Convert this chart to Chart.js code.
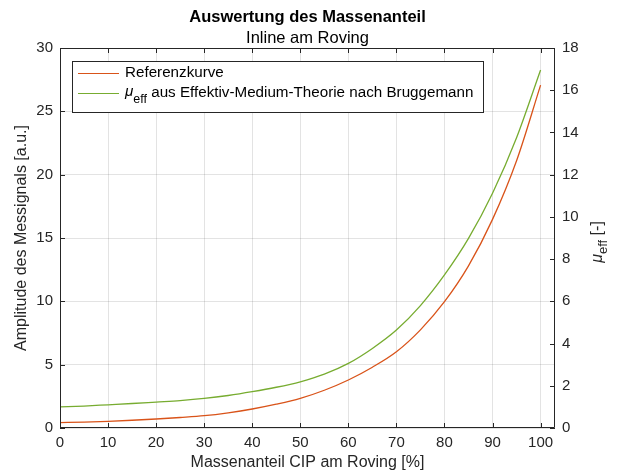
<!DOCTYPE html>
<html lang="de">
  <head>
    <title>Auswertung des Massenanteil</title>
    <script src="https://cdn.jsdelivr.net/npm/chart.js@4.4.1/dist/chart.umd.min.js"></script>
    <style>
      body { margin: 0; background: #fff; }
      #wrap { width: 617px; height: 474px; }
    </style>
  </head>
  <body>
    <div id="wrap">
      <canvas id="massChart" width="617" height="474"></canvas>
    </div>
    <script>
      // values
      const massenanteil = [0, 5, 10, 15, 20, 25, 30, 35, 40, 45, 50, 55, 60, 65, 70, 75, 80, 85, 90, 95, 100];
      const referenzkurve = [0.42, 0.47, 0.53, 0.61, 0.71, 0.83, 0.97, 1.2, 1.5, 1.88, 2.34, 2.98, 3.79, 4.8, 6.02, 7.75, 9.97, 12.8, 16.47, 21.1, 27.07];
      const muEff = [1.0, 1.04, 1.1, 1.16, 1.23, 1.3, 1.4, 1.54, 1.72, 1.93, 2.19, 2.55, 3.06, 3.77, 4.64, 5.8, 7.25, 8.98, 11.12, 13.75, 16.96];

      const xTicks = [0, 10, 20, 30, 40, 50, 60, 70, 80, 90, 100];
      const leftTicks = [0, 5, 10, 15, 20, 25, 30];
      const rightTicks = [0, 2, 4, 6, 8, 10, 12, 14, 16, 18];

      const legendLabels = ["Referenzkurve", "aus Effektiv-Medium-Theorie nach Bruggemann"];

      const ORANGE = "#D95319";
      const GREEN = "#77AC30";
      const INK = "#262626";
      const FONT = "'Liberation Sans', Arial, Helvetica, sans-serif";

      const useTicks = (values) => (scale) => {
        scale.ticks = values.map(v => ({ value: v }));
      };

      // box, inward ticks, titles and legend in MATLAB style
      const matlabDecor = {
        id: "matlabDecor",
        afterDraw(chart) {
          const ctx = chart.ctx;
          const a = chart.chartArea;
          const sx = chart.scales.x, sy = chart.scales.y, sy1 = chart.scales.y1;
          const tl = 5;
          ctx.save();
          ctx.strokeStyle = INK;
          ctx.lineWidth = 1;
          ctx.beginPath();
          ctx.rect(a.left + 0.5, a.top + 0.5, a.right - a.left - 1, a.bottom - a.top - 1);
          xTicks.forEach(v => {
            const px = Math.round(sx.getPixelForValue(v)) + 0.5;
            ctx.moveTo(px, a.bottom); ctx.lineTo(px, a.bottom - tl);
            ctx.moveTo(px, a.top); ctx.lineTo(px, a.top + tl);
          });
          leftTicks.forEach(v => {
            const py = Math.round(sy.getPixelForValue(v)) + 0.5;
            ctx.moveTo(a.left, py); ctx.lineTo(a.left + tl, py);
          });
          rightTicks.forEach(v => {
            const py = Math.round(sy1.getPixelForValue(v)) + 0.5;
            ctx.moveTo(a.right, py); ctx.lineTo(a.right - tl, py);
          });
          ctx.stroke();

          const cx = (a.left + a.right) / 2;
          ctx.fillStyle = "#000";
          ctx.textAlign = "center";
          ctx.textBaseline = "middle";
          ctx.font = "bold 16.5px " + FONT;
          ctx.fillText("Auswertung des Massenanteil", cx, 17);
          ctx.font = "16.5px " + FONT;
          ctx.fillText("Inline am Roving", cx, 38);

          ctx.fillStyle = INK;
          ctx.font = "16px " + FONT;
          ctx.fillText("Massenanteil CIP am Roving [%]", cx, 463);

          ctx.save();
          ctx.translate(22, (a.top + a.bottom) / 2);
          ctx.rotate(-Math.PI / 2);
          ctx.fillText("Amplitude des Messignals [a.u.]", 0, 0);
          ctx.restore();

          // right axis title with subscript
          ctx.save();
          ctx.translate(597, (a.top + a.bottom) / 2 + 4);
          ctx.rotate(-Math.PI / 2);
          ctx.textAlign = "left";
          ctx.textBaseline = "alphabetic";
          ctx.font = "italic 16px " + FONT;
          const wMu = ctx.measureText("\u03bc").width;
          ctx.font = "13px " + FONT;
          const wEff = ctx.measureText("eff").width;
          ctx.font = "16px " + FONT;
          const wRest = ctx.measureText(" [-]").width;
          let x0 = -(wMu + wEff + wRest) / 2;
          ctx.font = "italic 16px " + FONT;
          ctx.fillText("\u03bc", x0, 5);
          ctx.font = "13px " + FONT;
          ctx.fillText("eff", x0 + wMu, 10);
          ctx.font = "16px " + FONT;
          ctx.fillText(" [-]", x0 + wMu + wEff, 5);
          ctx.restore();

          // legend
          const lx = 72.5, ly = 61.5, lw = 411, lh = 51;
          ctx.fillStyle = "#fff";
          ctx.fillRect(lx, ly, lw, lh);
          ctx.strokeStyle = INK;
          ctx.strokeRect(lx, ly, lw, lh);
          const rows = [73, 93];
          [ORANGE, GREEN].forEach((c, i) => {
            ctx.strokeStyle = c;
            ctx.lineWidth = 1.2;
            ctx.beginPath();
            ctx.moveTo(78, rows[i] + 0.5);
            ctx.lineTo(119, rows[i] + 0.5);
            ctx.stroke();
          });
          ctx.fillStyle = "#000";
          ctx.textAlign = "left";
          ctx.textBaseline = "middle";
          ctx.font = "15.2px " + FONT;
          ctx.fillText(legendLabels[0], 125, rows[0]);
          ctx.font = "italic 15.2px " + FONT;
          ctx.fillText("\u03bc", 125, rows[1] - 1);
          const mw = ctx.measureText("\u03bc").width;
          ctx.font = "12.5px " + FONT;
          ctx.fillText("eff", 125 + mw, rows[1] + 7);
          const ew = ctx.measureText("eff").width;
          ctx.font = "15.2px " + FONT;
          ctx.fillText(" " + legendLabels[1], 125 + mw + ew, rows[1]);
          ctx.restore();
        }
      };

      const ctx = document.getElementById("massChart").getContext("2d");
      const massChart = new Chart(ctx, {
        type: "line",
        data: {
          datasets: [
            {
              label: legendLabels[0],
              data: massenanteil.map((x, i) => ({ x: x, y: referenzkurve[i] })),
              borderColor: ORANGE,
              borderWidth: 1.3,
              pointRadius: 0,
              cubicInterpolationMode: "monotone",
              yAxisID: "y"
            },
            {
              label: legendLabels[1],
              data: massenanteil.map((x, i) => ({ x: x, y: muEff[i] })),
              borderColor: GREEN,
              borderWidth: 1.3,
              pointRadius: 0,
              cubicInterpolationMode: "monotone",
              yAxisID: "y1"
            }
          ]
        },
        options: {
          responsive: false,
          animation: false,
          events: [],
          layout: { padding: { top: 48, left: 0, right: 0, bottom: 0 } },
          plugins: {
            legend: { display: false },
            title: { display: false },
            tooltip: { enabled: false }
          },
          scales: {
            x: {
              type: "linear",
              min: 0,
              max: 103,
              afterBuildTicks: useTicks(xTicks),
              afterFit: (s) => { s.height = 46; },
              grid: { color: "rgba(38,38,38,0.13)", drawTicks: false },
              border: { display: false },
              ticks: { color: INK, padding: 6, font: { family: FONT, size: 15 }, maxRotation: 0 }
            },
            y: {
              position: "left",
              min: 0,
              max: 30,
              afterBuildTicks: useTicks(leftTicks),
              afterFit: (s) => { s.width = 60; },
              grid: { color: "rgba(38,38,38,0.13)", drawTicks: false },
              border: { display: false },
              ticks: { color: INK, padding: 7, font: { family: FONT, size: 15 } }
            },
            y1: {
              position: "right",
              min: 0,
              max: 18,
              afterBuildTicks: useTicks(rightTicks),
              afterFit: (s) => { s.width = 62; },
              grid: { drawOnChartArea: false, drawTicks: false },
              border: { display: false },
              ticks: { color: INK, padding: 7, font: { family: FONT, size: 15 } }
            }
          }
        },
        plugins: [matlabDecor]
      });
    </script>
  </body>
</html>
